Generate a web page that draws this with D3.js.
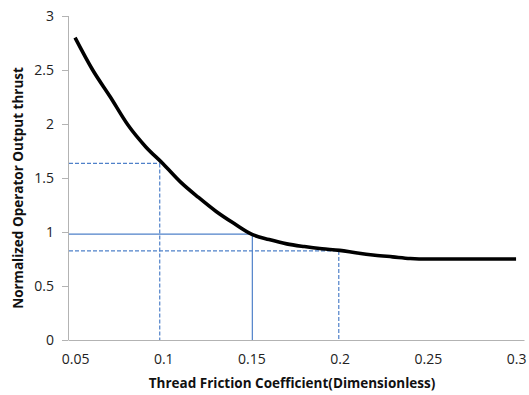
<!DOCTYPE html>
<html>
<head>
<meta charset="utf-8">
<script src="https://cdn.jsdelivr.net/npm/d3@7"></script>
<style>
  body { margin: 0; background: #fff; }
  text { font-family: "Open Sans", "Noto Sans", sans-serif; }
</style>
</head>
<body>
<div id="chart"></div>
<script>
// friction coefficient vs normalized thrust
const friction = [0.05, 0.06, 0.07, 0.08, 0.09, 0.10, 0.11, 0.12, 0.13, 0.14, 0.15,
                  0.16, 0.17, 0.18, 0.19, 0.20, 0.21, 0.22, 0.23, 0.24, 0.25,
                  0.26, 0.27, 0.28, 0.29, 0.30];
const thrust = [2.80, 2.50, 2.25, 1.99, 1.79, 1.63, 1.46, 1.32, 1.19, 1.08, 0.98,
                0.93, 0.89, 0.865, 0.845, 0.83, 0.805, 0.785, 0.77, 0.755, 0.75,
                0.75, 0.75, 0.75, 0.75, 0.75];

// guide lines
const guideX = [0.098, 0.1505, 0.1995];
const guideY = [1.635, 0.98, 0.825];
const guideDashed = [true, false, true];

const xTicks = [0.05, 0.1, 0.15, 0.2, 0.25, 0.3];
const yTicks = [0, 0.5, 1, 1.5, 2, 2.5, 3];

const W = 529, H = 395;
const margin = {top: 16, right: 5, bottom: 55, left: 68};
const width = W - margin.left - margin.right,
      height = H - margin.top - margin.bottom;

const svg = d3.select("#chart").append("svg")
  .attr("width", W).attr("height", H);

const g = svg.append("g")
  .attr("transform", "translate(" + margin.left + "," + margin.top + ")");

const x = d3.scaleLinear().domain([0.046, 0.3045]).range([0, width]);
const y = d3.scaleLinear().domain([0, 3]).range([height, 0]);

const axisColor = "#b3b3b3";
const blue = "#4f81c9";

// y axis
const yAxis = g.append("g")
  .call(d3.axisLeft(y).tickValues(yTicks).tickSize(6).tickPadding(8)
    .tickFormat(d3.format("~g")));
yAxis.select(".domain").attr("stroke", axisColor).attr("d", "M0.5," + height + "V0");
yAxis.selectAll(".tick line").attr("stroke", axisColor).attr("x1", -6).attr("x2", 0);
yAxis.selectAll("text").attr("fill", "#222").style("font-size", "14px");

// x axis
const xAxis = g.append("g")
  .attr("transform", "translate(0," + height + ")")
  .call(d3.axisBottom(x).tickValues(xTicks).tickSize(0).tickPadding(14)
    .tickFormat(d3.format("~g")));
xAxis.select(".domain").attr("stroke", axisColor);
xAxis.selectAll("text").attr("fill", "#222").style("font-size", "14px");

// guide lines
guideX.forEach((gx, i) => {
  const dash = guideDashed[i] ? "4,2" : null;
  g.append("line")
    .attr("x1", 1).attr("x2", x(gx))
    .attr("y1", y(guideY[i])).attr("y2", y(guideY[i]))
    .attr("stroke", blue).attr("stroke-width", 1.2)
    .attr("stroke-dasharray", dash);
  g.append("line")
    .attr("x1", x(gx)).attr("x2", x(gx))
    .attr("y1", y(guideY[i])).attr("y2", height)
    .attr("stroke", blue).attr("stroke-width", 1.2)
    .attr("stroke-dasharray", dash);
});

// curve
const data = friction.map((f, i) => ({f: f, t: thrust[i]}));
g.append("path")
  .datum(data)
  .attr("fill", "none")
  .attr("stroke", "#000")
  .attr("stroke-width", 3.6)
  .attr("stroke-linejoin", "round")
  .attr("d", d3.line()
    .x(d => x(d.f))
    .y(d => y(d.t))
    .curve(d3.curveMonotoneX));

// axis titles
svg.append("text")
  .attr("x", 292).attr("y", 388)
  .attr("text-anchor", "middle")
  .style("font-size", "13.5px").style("font-weight", "bold")
  .attr("fill", "#111")
  .text("Thread Friction Coefficient(Dimensionless)");

svg.append("text")
  .attr("transform", "translate(23," + (margin.top + height / 2 + 10) + ") rotate(-90)")
  .attr("text-anchor", "middle")
  .style("font-size", "13.5px").style("font-weight", "bold")
  .attr("fill", "#111")
  .text("Normalized Operator Output thrust");
</script>
</body>
</html>
